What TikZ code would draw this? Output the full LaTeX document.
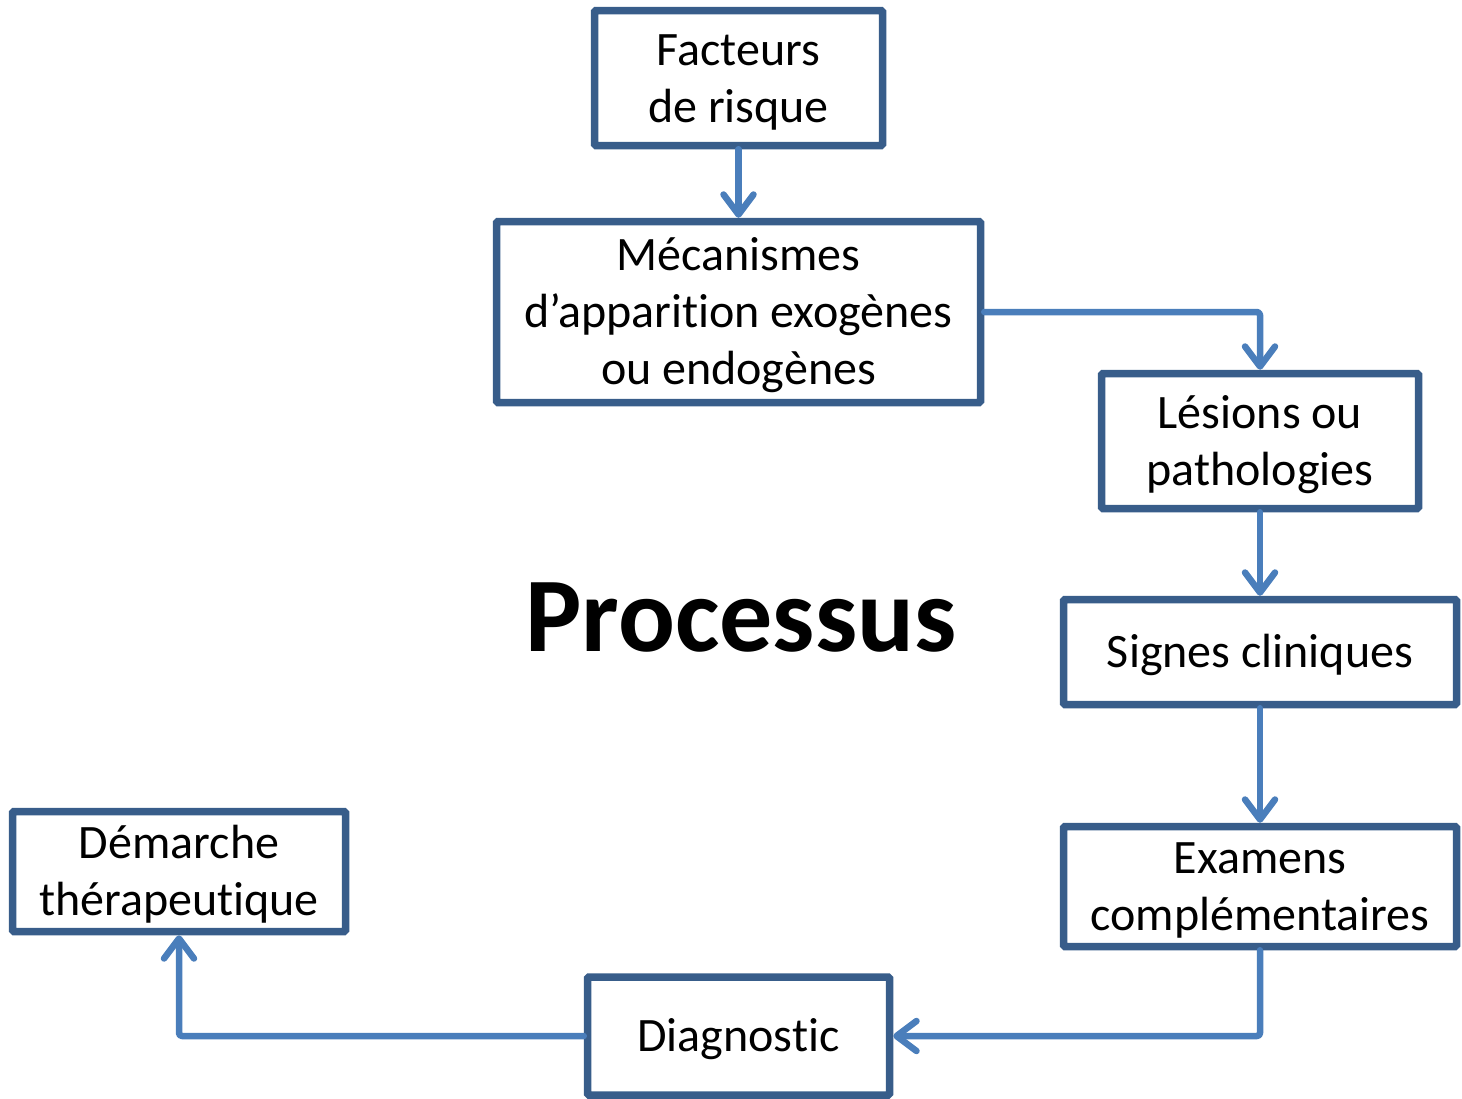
\documentclass[tikz,border=0pt]{standalone}
\usepackage{fontspec}
\setmainfont[Ligatures=NoCommon]{Carlito}
\usetikzlibrary{arrows.meta}
\definecolor{boxc}{HTML}{385D8A}
\definecolor{arrc}{HTML}{4A7EBB}
\newcommand{\lnstrut}{\rule[-12pt]{0pt}{55pt}}
\begin{document}
\begin{tikzpicture}[x=1pt,y=-1pt,
  box/.style={draw=boxc,line width=7.5pt,rounded corners=1.5pt,inner sep=0pt,align=center,
    font=\fontsize{48}{57}\selectfont},
  arr/.style={draw=arrc,line width=6.5pt,rounded corners=3pt,line cap=round,line join=round,
    -{Straight Barb[length=20pt,width=30pt,line cap=round,line join=round]}}]
\useasboundingbox (0,0) rectangle (1462,1098);
\node[box,minimum width=288pt,minimum height=135pt] (fac) at (738.5,78) {\lnstrut Facteurs\\\lnstrut de risque};
\node[box,minimum width=484pt,minimum height=181pt] (mec) at (738.5,312) {\lnstrut Mécanismes\\\lnstrut d’apparit\kern0pt ion exogènes\\\lnstrut ou endogènes};
\node[box,minimum width=317pt,minimum height=135pt] (les) at (1260,441) {\lnstrut Lésions ou\\\lnstrut pathologies};
\node[box,minimum width=393pt,minimum height=105pt] (sig) at (1260,652) {\lnstrut Signes cliniques};
\node[box,minimum width=393pt,minimum height=120pt] (exa) at (1260,886.5) {\lnstrut Examens\\\lnstrut complémentaires};
\node[box,minimum width=302pt,minimum height=118pt] (dia) at (738.5,1036) {\lnstrut Diagnost\kern0pt ic};
\node[box,minimum width=333pt,minimum height=120pt] (dem) at (179,871.5) {\lnstrut Démarche\\\lnstrut thérapeutique};
\node[font=\fontsize{106}{118}\selectfont\bfseries,inner sep=0pt] (pro) at (741,618) {Processus};
\draw[arr] (fac.south) -- (mec.north);
\draw[arr] (mec.east) -| (les.north);
\draw[arr] (les.south) -- (sig.north);
\draw[arr] (sig.south) -- (exa.north);
\draw[arr] (exa.south) |- (dia.east);
\draw[arr] (dia.west) -| (dem.south);
\end{tikzpicture}
\end{document}
